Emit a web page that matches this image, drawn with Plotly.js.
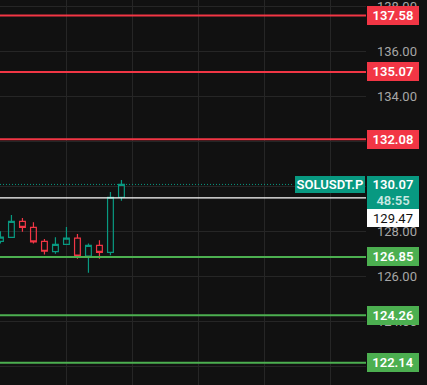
<!DOCTYPE html>
<html>
<head>
<meta charset="utf-8">
<script src="https://cdn.plot.ly/plotly-3.0.1.min.js"></script>
<style>
html,body{margin:0;padding:0;background:#111111;}
#chart{width:427px;height:385px;}
</style>
</head>
<body>
<div id="chart"></div>
<script>
// Candle data (index, OHLC)
const idx   = [0, 1, 2, 3, 4, 5, 6, 7, 8, 9, 10, 11];
const open  = [127.54, 127.72, 128.43, 128.16, 127.54, 127.08, 127.41, 127.68, 126.89, 127.36, 127.05, 129.50];
const high  = [127.99, 128.71, 128.58, 128.39, 127.64, 127.72, 128.18, 127.87, 127.44, 127.59, 129.73, 130.27];
const low   = [127.45, 127.70, 127.97, 127.44, 126.96, 126.99, 127.40, 126.77, 126.15, 126.77, 126.92, 129.35];
const close = [127.73, 128.43, 128.16, 127.52, 127.10, 127.41, 127.68, 126.88, 127.36, 127.05, 129.50, 130.07];

// Horizontal levels
const resistance = [137.58, 135.07, 132.08];
const support    = [126.85, 124.26, 122.14];
const lastPrice  = 130.07;
const markPrice  = 129.47;
const countdown  = "48:55";
const symbol     = "SOLUSDT.P";

const RED = '#f23645', GREEN = '#4caf50', TEAL = '#089981', BG = '#111111';
const FONT = 'Roboto, "Liberation Sans", sans-serif';

const shapes = [];
const annotations = [];
function levelLabel(v, color) {
  annotations.push({
    xref: 'paper', x: 1, xanchor: 'left', xshift: 1,
    yref: 'y', y: v, yanchor: 'middle',
    text: v.toFixed(2), showarrow: false,
    bgcolor: color, borderpad: 1, borderwidth: 0,
    width: 50, height: 17, align: 'center',
    font: {family: FONT, size: 13, color: '#ffffff', weight: 600}
  });
}
resistance.forEach(v => {
  shapes.push({type: 'line', xref: 'paper', x0: 0, x1: 1, yref: 'y', y0: v, y1: v,
    line: {color: RED, width: 2}});
  levelLabel(v, RED);
});
support.forEach(v => {
  shapes.push({type: 'line', xref: 'paper', x0: 0, x1: 1, yref: 'y', y0: v, y1: v,
    line: {color: GREEN, width: 2}});
  levelLabel(v, GREEN);
});
// mark price line (white)
shapes.push({type: 'line', xref: 'paper', x0: 0, x1: 1, yref: 'y', y0: markPrice, y1: markPrice,
  line: {color: '#ffffff', width: 1.3}});
// last price dotted
shapes.push({type: 'line', xref: 'paper', x0: 0, x1: 0.803, yref: 'y', y0: lastPrice, y1: lastPrice,
  line: {color: TEAL, width: 1, dash: '1px,2px'}});

// last price box with countdown
annotations.push({
  xref: 'paper', x: 1, xanchor: 'left', xshift: 1,
  yref: 'y', y: lastPrice, yanchor: 'top', yshift: 8.5,
  text: lastPrice.toFixed(2) + "<br><span style='color:rgba(255,255,255,0.78)'>" + countdown + "</span>",
  showarrow: false, bgcolor: TEAL, borderpad: 1, borderwidth: 0,
  width: 50, height: 31, align: 'center',
  font: {family: FONT, size: 13, color: '#ffffff', weight: 600}
});
// symbol label
annotations.push({
  xref: 'paper', x: 1, xanchor: 'right', xshift: -1,
  yref: 'y', y: lastPrice, yanchor: 'top', yshift: 8.5,
  text: symbol, showarrow: false, bgcolor: TEAL, borderpad: 1, borderwidth: 0,
  width: 68, height: 15.3, align: 'center',
  font: {family: FONT, size: 13, color: '#ffffff', weight: 600}
});
// mark price box
annotations.push({
  xref: 'paper', x: 1, xanchor: 'left', xshift: 1,
  yref: 'y', y: markPrice, yanchor: 'top', yshift: -11.4,
  text: markPrice.toFixed(2), showarrow: false, bgcolor: '#ffffff', borderpad: 1, borderwidth: 0,
  width: 50, height: 16, align: 'center',
  font: {family: FONT, size: 13, color: '#111111', weight: 400}
});

const trace = {
  type: 'candlestick', x: idx, open: open, high: high, low: low, close: close,
  increasing: {line: {color: TEAL, width: 1.2}, fillcolor: 'rgba(0,0,0,0)'},
  decreasing: {line: {color: RED, width: 1.2}, fillcolor: 'rgba(0,0,0,0)'},
  whiskerwidth: 0, hoverinfo: 'skip', showlegend: false
};

const layout = {
  width: 427, height: 385,
  margin: {l: 0, r: 61, t: 0, b: 0, pad: 0},
  paper_bgcolor: BG, plot_bgcolor: BG,
  showlegend: false, boxgap: 0.25,
  xaxis: {
    range: [-0.04, 33.23], showticklabels: false, ticks: '',
    showgrid: true, gridcolor: '#262626', gridwidth: 1, tick0: 0, dtick: 6,
    zeroline: false, showline: false, rangeslider: {visible: false}, fixedrange: true
  },
  yaxis: {
    side: 'right', range: [121.156, 138.267], tick0: 0, dtick: 2, tickformat: '.2f',
    showgrid: true, gridcolor: '#262626', gridwidth: 1, zeroline: false, showline: false,
    ticks: '', ticklabelstandoff: 10, ticklabeloverflow: 'allow',
    tickfont: {family: FONT, size: 13, color: '#a6a6a6'}, fixedrange: true
  },
  shapes: shapes,
  annotations: annotations
};

Plotly.newPlot('chart', [trace], layout, {staticPlot: true, displayModeBar: false});
</script>
</body>
</html>
